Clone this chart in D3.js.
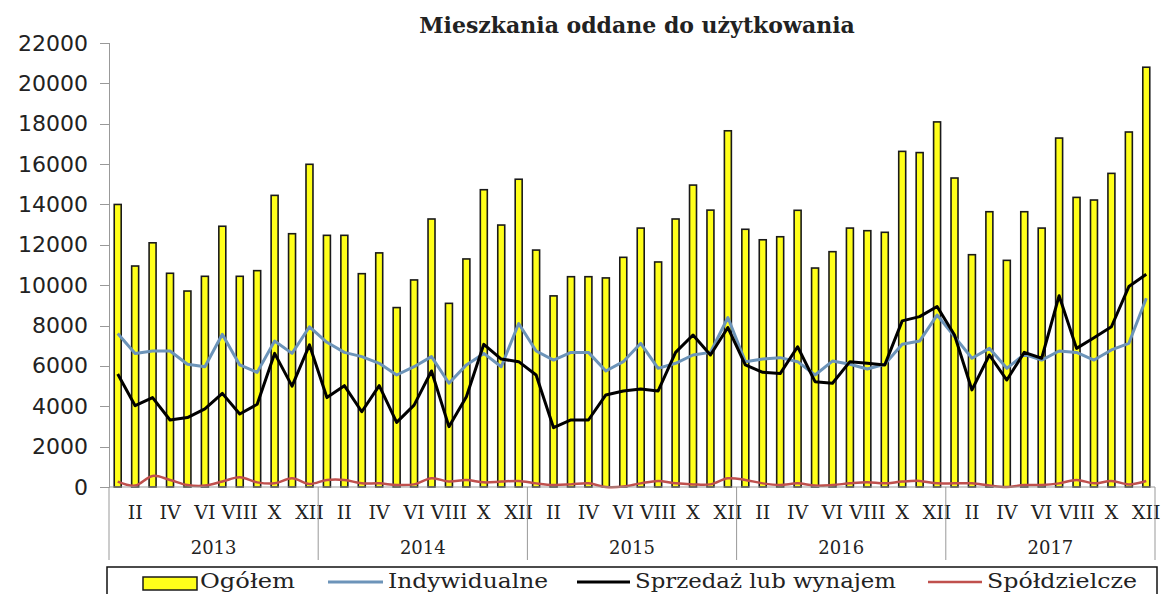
<!DOCTYPE html>
<meta charset="utf-8">
<style>
body { margin: 0; background: #fff; }
svg text { font-family: "DejaVu Serif", serif; fill: #222; }
.axis--y text { font-family: "DejaVu Sans", sans-serif; }
.axis path, .axis line { stroke: #999; shape-rendering: crispEdges; }
.line { fill: none; stroke-linejoin: round; }
</style>
<body>
<div id="chart"></div>
<script src="https://d3js.org/d3.v7.min.js"></script>
<script>

// monthly data 2013-2017
var years  = ["2013", "2014", "2015", "2016", "2017"];
var months = ["I","II","III","IV","V","VI","VII","VIII","IX","X","XI","XII"];
var yTicks = [0,2000,4000,6000,8000,10000,12000,14000,16000,18000,20000,22000];

var ogolem = [14000,10950,12100,10590,9710,10440,12920,10440,10720,14450,12550,15990,
              12470,12470,10570,11600,8890,10260,13280,9100,11300,14730,12980,15250,
              11740,9470,10420,10420,10360,11380,12830,11150,13280,14960,13720,17650,
              12770,12250,12400,13710,10850,11660,12830,12700,12620,16630,16570,18090,
              15310,11510,13640,11230,13640,12830,17290,14350,14220,15540,17590,20800];

var indywidualne = [7610,6620,6740,6740,6080,5960,7570,6050,5680,7230,6620,7940,
                    7170,6670,6460,6130,5550,5960,6460,5140,6050,6620,5960,8100,
                    6740,6290,6670,6670,5750,6210,7120,5880,6130,6540,6670,8400,
                    6210,6340,6410,6210,5550,6240,6080,5850,6080,7070,7230,8520,
                    7450,6380,6870,5880,6570,6290,6740,6670,6290,6790,7120,9350];

var sprzedaz = [5600,4030,4430,3320,3440,3870,4640,3620,4100,6620,5000,7040,
                4430,5020,3730,5020,3200,4060,5750,2990,4470,7070,6340,6210,
                5550,2940,3320,3320,4560,4760,4860,4760,6670,7530,6540,7900,
                6050,5680,5620,6950,5220,5140,6210,6130,6050,8230,8440,8940,
                7530,4810,6540,5300,6670,6380,9480,6870,7400,7940,9930,10540];

var spoldzielcze = [270,70,550,350,100,70,270,480,230,180,430,150,
                    350,350,180,180,100,130,430,270,350,230,270,300,
                    180,100,130,180,0,20,180,300,180,130,130,430,
                    350,180,100,180,70,100,180,230,180,270,300,180,
                    180,180,70,0,100,100,180,350,180,300,130,300];

var chartWidth = 1163, chartHeight = 594;
var margin = {top: 43, right: 8, bottom: 107, left: 109},
    width  = chartWidth - margin.left - margin.right,
    height = chartHeight - margin.top - margin.bottom;

var svg = d3.select("#chart").append("svg")
    .attr("width", chartWidth)
    .attr("height", chartHeight);

var g = svg.append("g")
    .attr("transform", "translate(" + margin.left + "," + margin.top + ")");

// one slot per month
var keys = [];
years.forEach(function(y){ months.forEach(function(m){ keys.push(y + "-" + m); }); });

var x = d3.scaleBand()
    .domain(keys)
    .range([0, width])
    .paddingInner(0.6)
    .paddingOuter(0.3);

var y = d3.scaleLinear()
    .domain([0, 22000])
    .range([height, 0]);

var cx = function(i){ return x(keys[i]) + x.bandwidth() / 2; };

// bars
g.selectAll(".bar")
    .data(ogolem)
    .enter().append("rect")
    .attr("class", "bar")
    .attr("x", function(d, i){ return x(keys[i]); })
    .attr("y", function(d){ return y(d); })
    .attr("width", x.bandwidth())
    .attr("height", function(d){ return height - y(d); })
    .attr("fill", "#ffff1a")
    .attr("stroke", "#1a1a1a")
    .attr("stroke-width", 1.6);

// lines
var series = [
    {name: "Indywidualne",          values: indywidualne, color: "#6c94b9", w: 3,   curve: d3.curveLinear,     len: 160},
    {name: "Sprzedaż lub wynajem",  values: sprzedaz,     color: "#000000", w: 3,   curve: d3.curveLinear,     len: 261},
    {name: "Spółdzielcze",          values: spoldzielcze, color: "#c0504d", w: 2.5, curve: d3.curveCatmullRom, len: 150}
];

series.forEach(function(s){
    var line = d3.line()
        .curve(s.curve)
        .x(function(d, i){ return cx(i); })
        .y(function(d){ return y(d); });
    g.append("path")
        .datum(s.values)
        .attr("class", "line")
        .attr("d", line)
        .attr("stroke", s.color)
        .attr("stroke-width", s.w);
});

// y axis
var yAxis = g.append("g")
    .attr("class", "axis axis--y")
    .call(d3.axisLeft(y).tickValues(yTicks).tickSize(9).tickPadding(12).tickFormat(d3.format("d")));
yAxis.selectAll("text")
    .attr("font-size", 22)
    .attr("fill", "#333");

// x axis: baseline, month labels, year labels, year separators
g.append("line")
    .attr("x1", 0).attr("x2", width)
    .attr("y1", height).attr("y2", height)
    .attr("stroke", "#999");

g.selectAll(".month")
    .data(keys)
    .enter().filter(function(d, i){ return i % 2 == 1; })
    .append("text")
    .attr("class", "month")
    .attr("x", function(d){ return x(d) + x.bandwidth() / 2; })
    .attr("y", height + 32)
    .attr("text-anchor", "middle")
    .attr("font-size", 19)
    .text(function(d){ return d.split("-")[1]; });

var yearWidth = width / years.length;

g.selectAll(".sep")
    .data(d3.range(years.length + 1))
    .enter().append("line")
    .attr("x1", function(d){ return d * yearWidth; })
    .attr("x2", function(d){ return d * yearWidth; })
    .attr("y1", height)
    .attr("y2", height + 73)
    .attr("stroke", "#999");

g.selectAll(".year")
    .data(years)
    .enter().append("text")
    .attr("class", "year")
    .attr("x", function(d, i){ return (i + 0.5) * yearWidth; })
    .attr("y", height + 67)
    .attr("text-anchor", "middle")
    .attr("font-size", 18)
    .text(function(d){ return d; });

// title
svg.append("text")
    .attr("x", 637)
    .attr("y", 33)
    .attr("text-anchor", "middle")
    .attr("font-size", 22)
    .attr("font-weight", "bold")
    .attr("fill", "#111")
    .text("Mieszkania oddane do użytkowania");

// legend
var legend = svg.append("g").attr("class", "legend");

legend.append("rect")
    .attr("x", 107).attr("y", 567)
    .attr("width", 1050).attr("height", 40)
    .attr("fill", "none")
    .attr("stroke", "#111")
    .attr("stroke-width", 1.5);

legend.append("rect")
    .attr("x", 143).attr("y", 577)
    .attr("width", 54).attr("height", 13)
    .attr("fill", "#ffff1a")
    .attr("stroke", "#1a1a1a")
    .attr("stroke-width", 1.5);

legend.append("text")
    .attr("x", 200).attr("y", 588)
    .attr("font-size", 20)
    .attr("textLength", 95)
    .attr("lengthAdjust", "spacingAndGlyphs")
    .text("Ogółem");

var legendPos = [{x1: 328, x2: 383}, {x1: 577, x2: 630}, {x1: 928, x2: 982}];

series.forEach(function(s, i){
    legend.append("line")
        .attr("x1", legendPos[i].x1).attr("x2", legendPos[i].x2)
        .attr("y1", 582).attr("y2", 582)
        .attr("stroke", s.color)
        .attr("stroke-width", s.w);
    legend.append("text")
        .attr("x", legendPos[i].x2 + 5).attr("y", 588)
        .attr("font-size", 20)
        .attr("textLength", s.len)
        .attr("lengthAdjust", "spacingAndGlyphs")
        .text(s.name);
});

</script>
